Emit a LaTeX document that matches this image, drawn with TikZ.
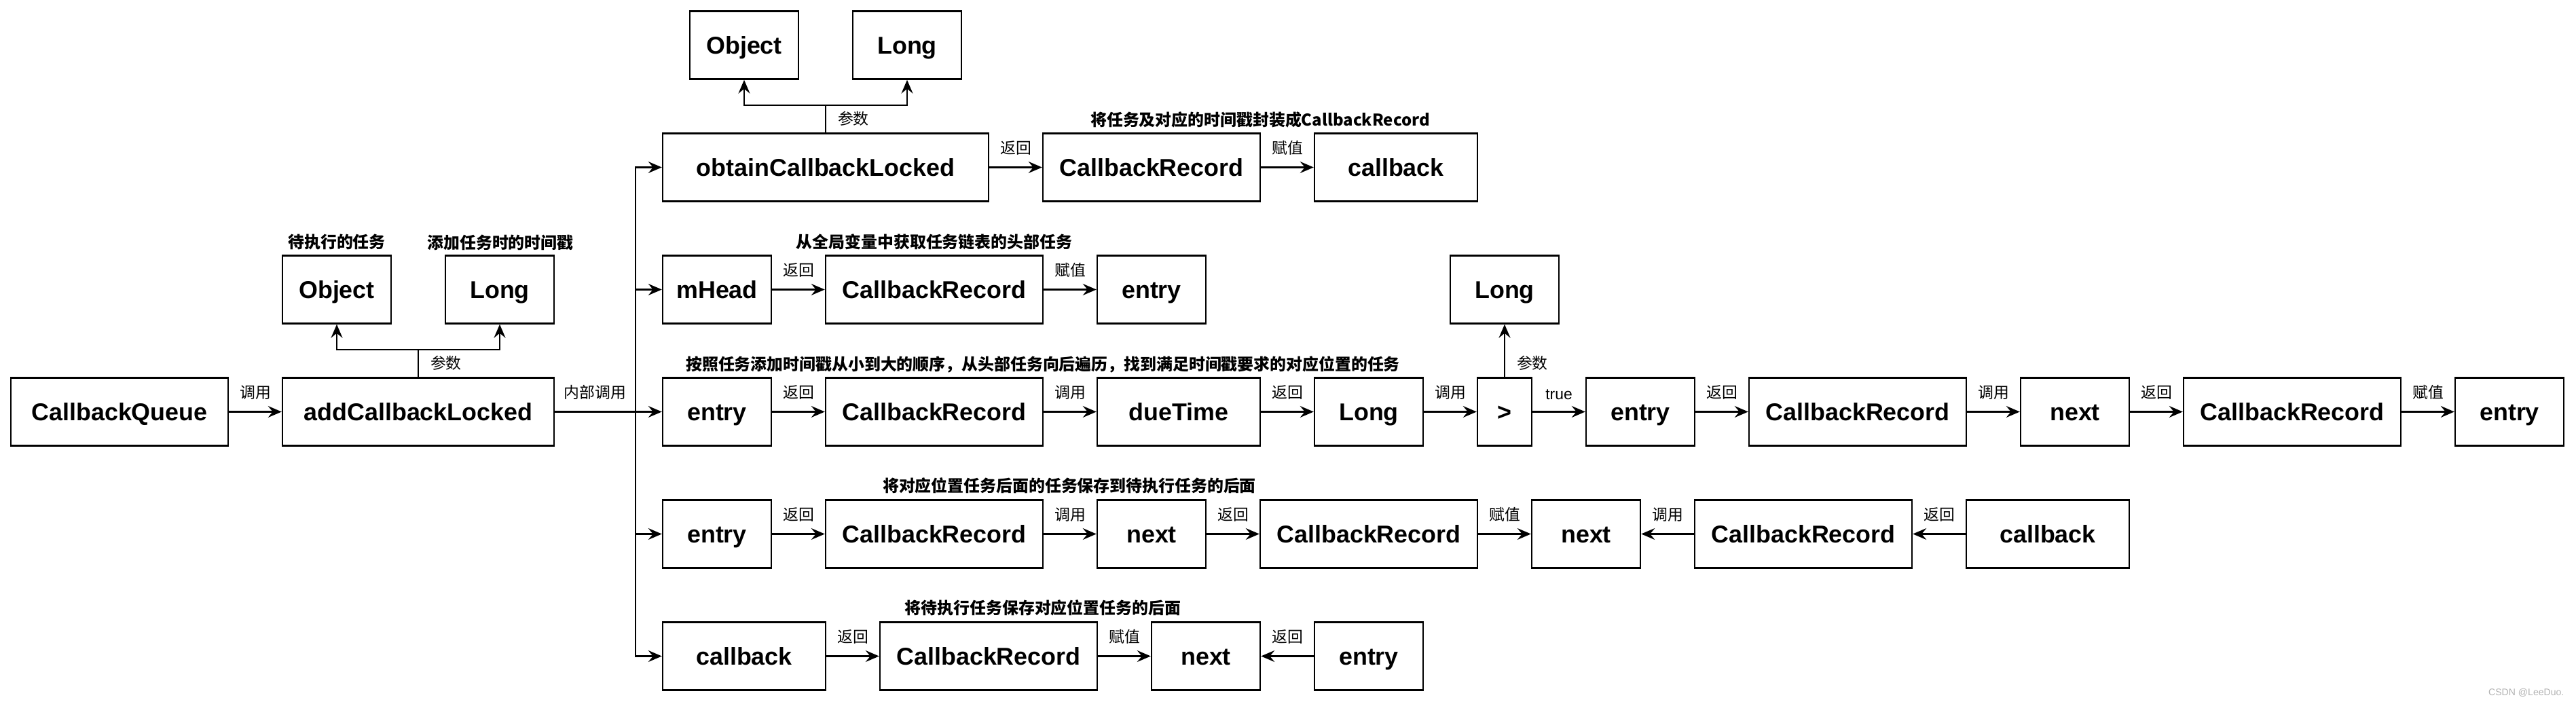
\documentclass[tikz,border=0pt]{standalone}
\usepackage{fontspec}
\setmainfont{Liberation Sans}
\newfontfamily\cjkfont{Noto Sans CJK SC}
\usetikzlibrary{arrows.meta}

\begin{document}
\begin{tikzpicture}[
            box/.style={draw, line width=0.7pt, minimum height=1cm, inner sep=0pt, text height=7.4pt, text depth=0pt, font=\fontsize{10.2}{12}\selectfont\bfseries},
            arr/.style={line width=0.6pt, -{Stealth[length=2mm, width=1.7mm, inset=0.7mm]}},
            lbl/.style={above=1.2mm, inner sep=0.5mm, font=\cjkfont\fontsize{6.5}{7}\selectfont},
            prm/.style={right=1.2mm, inner sep=0.5mm, font=\cjkfont\fontsize{6.5}{7}\selectfont},
            note/.style={inner sep=0pt, font=\cjkfont\bfseries\fontsize{6.8}{8}\selectfont}]
            \useasboundingbox (0,0) rectangle (37.94,-10.34);
            \node[box, minimum width=3.2cm] (queue) at (1.76,-6.065) {CallbackQueue};
            \node[box, minimum width=4cm] (add) at (6.16,-6.065) {addCallbackLocked};
            \node[box, minimum width=1.6cm] (objA) at (4.96,-4.265) {Object};
            \node[box, minimum width=1.6cm] (longA) at (7.36,-4.265) {Long};
            \node[note] (noteA) at (4.96,-3.57) {待执行的任务};
            \node[note] (noteB) at (7.37,-3.57) {添加任务时的时间戳};
            \node[box, minimum width=1.6cm] (objB) at (10.96,-0.665) {Object};
            \node[box, minimum width=1.6cm] (longB) at (13.36,-0.665) {Long};
            \node[box, minimum width=4.8cm] (obtain) at (12.16,-2.465) {obtainCallbackLocked};
            \node[box, minimum width=3.2cm] (recA) at (16.96,-2.465) {CallbackRecord};
            \node[box, minimum width=2.4cm] (cbA) at (20.56,-2.465) {callback};
            \node[note] (noteC) at (18.56,-1.76) {将任务及对应的时间戳封装成CallbackRecord};
            \node[box, minimum width=1.6cm] (head) at (10.56,-4.265) {mHead};
            \node[box, minimum width=3.2cm] (recB) at (13.76,-4.265) {CallbackRecord};
            \node[box, minimum width=1.6cm] (entryB) at (16.96,-4.265) {entry};
            \node[note] (noteD) at (13.76,-3.56) {从全局变量中获取任务链表的头部任务};
            \node[box, minimum width=1.6cm] (longC) at (22.16,-4.265) {Long};
            \node[box, minimum width=1.6cm] (entryC) at (10.56,-6.065) {entry};
            \node[box, minimum width=3.2cm] (recC) at (13.76,-6.065) {CallbackRecord};
            \node[box, minimum width=2.4cm] (due) at (17.36,-6.065) {dueTime};
            \node[box, minimum width=1.6cm] (longD) at (20.16,-6.065) {Long};
            \node[box, minimum width=0.8cm] (gt) at (22.16,-6.065) {>};
            \node[box, minimum width=1.6cm] (entryD) at (24.16,-6.065) {entry};
            \node[box, minimum width=3.2cm] (recD) at (27.36,-6.065) {CallbackRecord};
            \node[box, minimum width=1.6cm] (nextD) at (30.56,-6.065) {next};
            \node[box, minimum width=3.2cm] (recE) at (33.76,-6.065) {CallbackRecord};
            \node[box, minimum width=1.6cm] (entryE) at (36.96,-6.065) {entry};
            \node[note] (noteE) at (15.36,-5.37) {按照任务添加时间戳从小到大的顺序，从头部任务向后遍历，找到满足时间戳要求的对应位置的任务};
            \node[box, minimum width=1.6cm] (entryF) at (10.56,-7.865) {entry};
            \node[box, minimum width=3.2cm] (recF) at (13.76,-7.865) {CallbackRecord};
            \node[box, minimum width=1.6cm] (nextF) at (16.96,-7.865) {next};
            \node[box, minimum width=3.2cm] (recG) at (20.16,-7.865) {CallbackRecord};
            \node[box, minimum width=1.6cm] (nextG) at (23.36,-7.865) {next};
            \node[box, minimum width=3.2cm] (recH) at (26.56,-7.865) {CallbackRecord};
            \node[box, minimum width=2.4cm] (cbH) at (30.16,-7.865) {callback};
            \node[note] (noteF) at (15.75,-7.15) {将对应位置任务后面的任务保存到待执行任务的后面};
            \node[box, minimum width=2.4cm] (cbI) at (10.96,-9.665) {callback};
            \node[box, minimum width=3.2cm] (recI) at (14.56,-9.665) {CallbackRecord};
            \node[box, minimum width=1.6cm] (nextI) at (17.76,-9.665) {next};
            \node[box, minimum width=1.6cm] (entryI) at (20.16,-9.665) {entry};
            \node[note] (noteG) at (15.36,-8.95) {将待执行任务保存对应位置任务的后面};
            \node[font=\fontsize{4}{5}\selectfont, text=gray!60, anchor=east, inner sep=0pt] (mark) at (37.77,-10.2) {CSDN @LeeDuo.};
            \draw[arr] (queue.east) -- node[lbl] {调用} (add.west);
            \draw[line width=0.6pt] (add.north) -- ++(0,0.4) node[midway, prm] {参数} coordinate (forkA);
            \draw[arr] (forkA) -| (objA.south);
            \draw[arr] (forkA) -| (longA.south);
            \coordinate (bus) at (9.36,-6.065);
            \draw[arr] (add.east) -- node[lbl] {内部调用} (bus) -- (entryC.west);
            \draw[arr] (bus) |- (obtain.west);
            \draw[arr] (bus) |- (head.west);
            \draw[arr] (bus) |- (entryF.west);
            \draw[arr] (bus) |- (cbI.west);
            \draw[line width=0.6pt] (obtain.north) -- ++(0,0.4) node[midway, prm] {参数} coordinate (forkB);
            \draw[arr] (forkB) -| (objB.south);
            \draw[arr] (forkB) -| (longB.south);
            \draw[arr] (obtain) -- node[lbl] {返回} (recA);
            \draw[arr] (recA) -- node[lbl] {赋值} (cbA);
            \draw[arr] (head) -- node[lbl] {返回} (recB);
            \draw[arr] (recB) -- node[lbl] {赋值} (entryB);
            \draw[arr] (entryC) -- node[lbl] {返回} (recC);
            \draw[arr] (recC) -- node[lbl] {调用} (due);
            \draw[arr] (due) -- node[lbl] {返回} (longD);
            \draw[arr] (longD) -- node[lbl] {调用} (gt);
            \draw[arr] (gt.north) -- node[prm, pos=0.27] {参数} (longC.south);
            \draw[arr] (gt) -- node[lbl, font=\fontsize{6.5}{7}\selectfont] {true} (entryD);
            \draw[arr] (entryD) -- node[lbl] {返回} (recD);
            \draw[arr] (recD) -- node[lbl] {调用} (nextD);
            \draw[arr] (nextD) -- node[lbl] {返回} (recE);
            \draw[arr] (recE) -- node[lbl] {赋值} (entryE);
            \draw[arr] (entryF) -- node[lbl] {返回} (recF);
            \draw[arr] (recF) -- node[lbl] {调用} (nextF);
            \draw[arr] (nextF) -- node[lbl] {返回} (recG);
            \draw[arr] (recG) -- node[lbl] {赋值} (nextG);
            \draw[arr] (recH) -- node[lbl] {调用} (nextG);
            \draw[arr] (cbH) -- node[lbl] {返回} (recH);
            \draw[arr] (cbI) -- node[lbl] {返回} (recI);
            \draw[arr] (recI) -- node[lbl] {赋值} (nextI);
            \draw[arr] (entryI) -- node[lbl] {返回} (nextI);
        \end{tikzpicture}
\end{document}
